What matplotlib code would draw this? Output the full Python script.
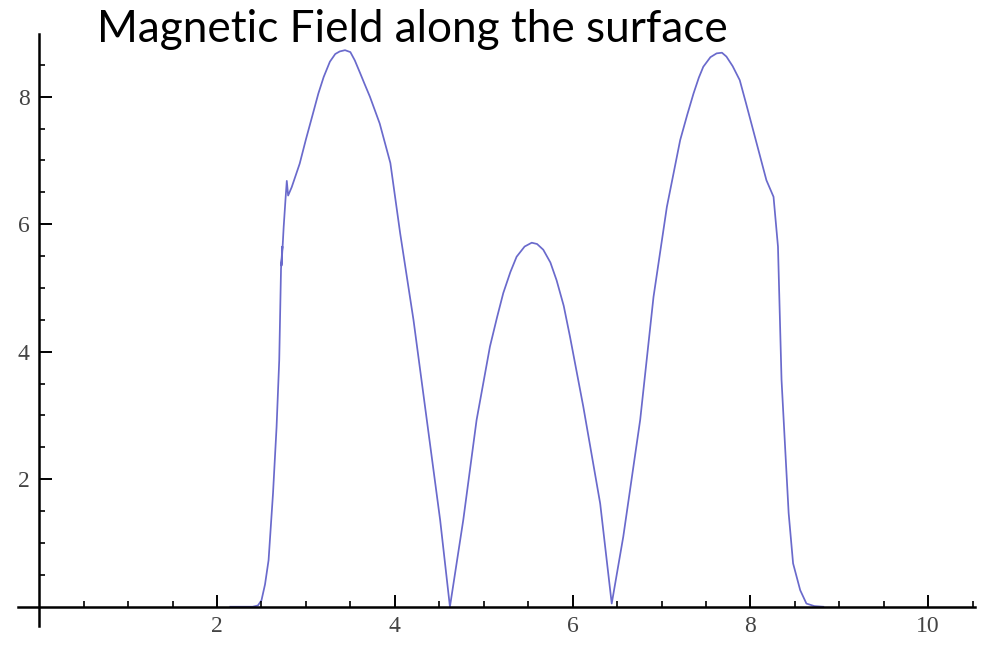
import matplotlib
matplotlib.use("Agg")
import matplotlib.pyplot as plt
import numpy as np
from matplotlib.ticker import FixedLocator

# DATA
x = [2.15, 2.40, 2.46, 2.50, 2.54, 2.58, 2.63, 2.67, 2.70, 2.72, 2.735, 2.725, 2.74,
     2.75, 2.77, 2.785, 2.80, 2.84, 2.93, 3.00, 3.08, 3.14, 3.20, 3.27, 3.33, 3.38,
     3.44, 3.50, 3.55, 3.61, 3.66, 3.72, 3.83, 3.95, 4.06, 4.21, 4.36, 4.51, 4.62,
     4.77, 4.92, 5.07, 5.15, 5.22, 5.30, 5.37, 5.46, 5.54, 5.60, 5.67, 5.75, 5.82,
     5.90, 5.97, 6.12, 6.31, 6.44, 6.57, 6.76, 6.91, 7.06, 7.21, 7.29, 7.36, 7.42,
     7.47, 7.55, 7.62, 7.68, 7.73, 7.80, 7.88, 7.95, 8.03, 8.18, 8.26, 8.31, 8.35,
     8.39, 8.43, 8.48, 8.56, 8.63, 8.72, 8.82]
y = [0.0, 0.0, 0.02, 0.1, 0.35, 0.73, 1.78, 2.82, 3.87, 5.30, 5.65, 5.35, 5.70,
     5.96, 6.38, 6.68, 6.45, 6.58, 6.95, 7.33, 7.74, 8.05, 8.31, 8.55, 8.67, 8.71,
     8.73, 8.70, 8.57, 8.37, 8.20, 8.00, 7.58, 6.96, 5.86, 4.50, 2.93, 1.36, 0.0,
     1.36, 2.93, 4.08, 4.54, 4.92, 5.25, 5.49, 5.65, 5.71, 5.69, 5.60, 5.40, 5.12,
     4.72, 4.24, 3.14, 1.62, 0.05, 1.10, 2.93, 4.86, 6.27, 7.32, 7.72, 8.05, 8.30,
     8.47, 8.62, 8.68, 8.69, 8.63, 8.48, 8.26, 7.90, 7.48, 6.69, 6.43, 5.65, 3.56,
     2.51, 1.47, 0.68, 0.26, 0.05, 0.01, 0.0]
x_major = [2, 4, 6, 8, 10]
y_major = [2, 4, 6, 8]
title = "Magnetic Field along the surface"

fig = plt.figure(figsize=(9.86, 6.45), dpi=100)
ax = fig.add_axes([0, 0, 1, 1])
ax.set_xlim(-0.441, 10.65)
ax.set_ylim(-0.60, 9.517)

ax.plot(x, y, color="#6a6acc", lw=1.25, zorder=1)

# axes crossing at the origin, Mathematica style
for s in ["top", "right"]:
    ax.spines[s].set_visible(False)
ax.spines["bottom"].set_position(("data", 0))
ax.spines["left"].set_position(("data", 0))
ax.spines["bottom"].set_bounds(-0.24, 10.53)
ax.spines["left"].set_bounds(-0.30, 8.98)
for s in ["bottom", "left"]:
    ax.spines[s].set_linewidth(1.8)
    ax.spines[s].set_zorder(3)

ax.xaxis.set_major_locator(FixedLocator(x_major))
ax.yaxis.set_major_locator(FixedLocator(y_major))
ax.xaxis.set_minor_locator(FixedLocator(np.arange(0.5, 10.6, 0.5)))
ax.yaxis.set_minor_locator(FixedLocator(np.arange(0.5, 8.6, 0.5)))
ax.tick_params(which="major", direction="in", length=9, width=1.4,
               labelsize=17, labelcolor="#444444", pad=7)
ax.tick_params(which="minor", direction="in", length=4.5, width=1.2)
for lab in ax.get_xticklabels() + ax.get_yticklabels():
    lab.set_family("Liberation Serif")
ax.patch.set_alpha(0)

t = fig.text(97 / 986, 1 - 42 / 645, title, fontsize=30,
             family=["Lato", "DejaVu Sans"], va="baseline", ha="left")
fig.canvas.draw()
w = t.get_window_extent().width
t.set_fontsize(30 * 630 / w)

plt.savefig("out.png", dpi=100)
